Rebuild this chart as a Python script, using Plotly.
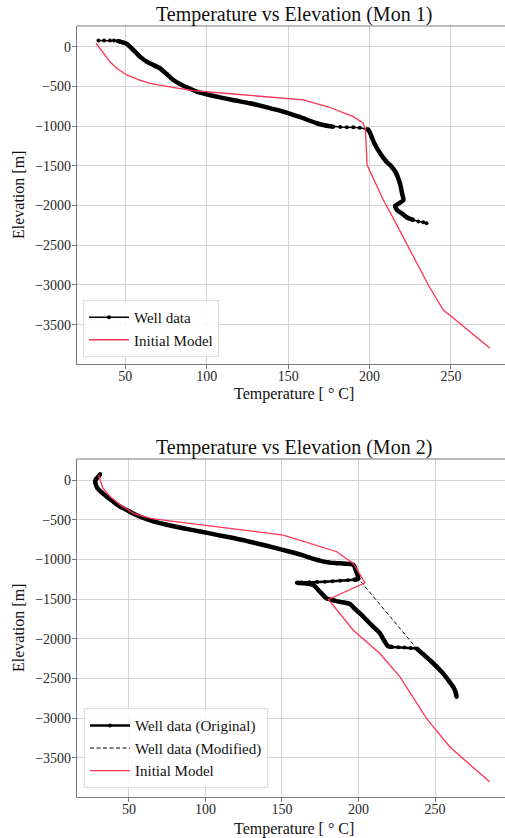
import plotly.graph_objects as go

# ---------------- Mon 1 ----------------
mon1_well_temp = [33.5, 37.0, 40.6, 43.0, 45.1,
                  47.0, 49.0, 50.9, 54.9, 59.0, 63.1, 67.2, 71.3, 75.4, 79.5, 83.6, 87.7, 93.9,
                  100.0, 106.0, 116.0, 126.6, 137.0, 147.0, 157.0, 167.6, 173.0, 177.8,
                  182.0, 186.0, 190.0, 194.0, 198.3,
                  199.3, 201.0, 203.0, 206.5, 210.0, 213.6, 216.0, 218.7, 220.0, 220.8, 218.0, 215.7,
                  217.0, 219.8, 223.0, 226.9,
                  230.0, 233.0, 235.0]
mon1_well_elev = [78, 78, 77, 76, 72,
                  62, 50, 34, -42, -126, -189, -230, -272, -344, -419, -470, -511, -566,
                  -600, -629, -672, -713, -764, -818, -885, -964, -992, -1007,
                  -1012, -1014, -1016, -1022, -1040,
                  -1049, -1120, -1220, -1342, -1440, -1511, -1580, -1720, -1850, -1930, -1975, -2006,
                  -2060, -2098, -2150, -2182,
                  -2200, -2212, -2222]
# index ranges of densely logged intervals
mon1_dense = [(4, 27), (32, 48)]

mon1_model_temp = [32.0, 35.0, 38.6, 41.0, 44.7, 50.9, 58.0, 65.2, 80.0, 91.8, 116.3, 136.9, 159.3,
                   175.0, 190.0, 196.0, 197.5, 198.5, 208.5, 215.7, 222.8, 236.1, 245.3, 250.5, 274.0]
mon1_model_elev = [43, -40, -126, -200, -272, -356, -415, -461, -515, -554, -596, -629, -671,
                   -760, -881, -960, -1040, -1490, -1930, -2203, -2475, -3000, -3315, -3399, -3797]

# ---------------- Mon 2 ----------------
mon2_well_temp = [31.3, 30.0, 28.5, 28.0, 28.5, 29.5, 32.0, 35.6, 39.5, 44.3, 50.5, 57.4, 65.5, 74.8,
                  85.5, 96.5, 107.5, 118.3, 129.0, 140.0, 151.0, 161.8, 168.0, 174.0, 180.0, 186.0,
                  191.0, 196.6, 198.5, 199.9,
                  197.0, 193.0, 188.0, 183.0, 178.0, 173.0, 168.0, 163.0, 159.7,
                  165.0, 170.5, 175.0, 179.2, 184.0, 187.9, 194.4, 197.5, 201.0, 205.3, 209.7, 214.0,
                  217.0, 219.4,
                  222.0, 226.0, 230.0, 234.0, 238.0,
                  242.0, 246.7, 251.0, 255.3, 259.0, 261.9, 263.5, 264.1]
mon2_well_elev = [80, 45, 15, -20, -60, -100, -150, -207, -265, -333, -395, -460, -515, -560,
                  -605, -645, -688, -728, -775, -825, -880, -935, -975, -1010, -1035, -1045,
                  -1052, -1065, -1150, -1240,
                  -1255, -1262, -1268, -1274, -1279, -1283, -1287, -1290, -1293,
                  -1300, -1322, -1410, -1490, -1515, -1533, -1560, -1620, -1680, -1764, -1849, -1932,
                  -2030, -2095,
                  -2102, -2106, -2110, -2115, -2122,
                  -2190, -2270, -2350, -2438, -2530, -2607, -2680, -2733]
mon2_dense = [(0, 30), (38, 53), (57, 66)]

# modified log: the excursion between -1240 m and -2122 m is removed
mon2_mod_temp = mon2_well_temp[:30] + mon2_well_temp[57:]
mon2_mod_elev = mon2_well_elev[:30] + mon2_well_elev[57:]

mon2_model_temp = [30.2, 31.3, 33.0, 37.8, 45.0, 53.0, 64.0, 85.6, 118.0, 150.9, 185.8, 196.6,
                   204.2, 180.3, 196.6, 214.0, 227.1, 244.5, 259.7, 285.8]
mon2_model_elev = [67, 4, -100, -207, -320, -417, -480, -535, -612, -691, -901, -1048,
                   -1293, -1503, -1891, -2185, -2480, -3006, -3365, -3807]

FONT = "Liberation Serif, Times New Roman, serif"
SPINE = "#7a7a7a"
GRID = "#d3d3d3"
RED = "#ff3355"
W, H = 505, 838


def segments(xs, ys, ranges):
    sx, sy = [], []
    for a, b in ranges:
        sx += xs[a:b + 1] + [None]
        sy += ys[a:b + 1] + [None]
    return sx, sy


fig = go.Figure()

# Mon 1 traces
dx, dy = segments(mon1_well_temp, mon1_well_elev, mon1_dense)
fig.add_trace(go.Scatter(x=dx, y=dy, mode="lines", line=dict(color="black", width=4.5, shape="spline", smoothing=0.6),
                         showlegend=False, hoverinfo="skip", xaxis="x", yaxis="y"))
fig.add_trace(go.Scatter(x=mon1_well_temp, y=mon1_well_elev, mode="lines+markers", name="Well data",
                         line=dict(color="black", width=1.5), marker=dict(color="black", size=4),
                         legend="legend", xaxis="x", yaxis="y"))
fig.add_trace(go.Scatter(x=mon1_model_temp, y=mon1_model_elev, mode="lines", name="Initial Model",
                         line=dict(color=RED, width=1.3), legend="legend", xaxis="x", yaxis="y"))

# Mon 2 traces
dx, dy = segments(mon2_well_temp, mon2_well_elev, mon2_dense)
fig.add_trace(go.Scatter(x=dx, y=dy, mode="lines", line=dict(color="black", width=4.5, shape="spline", smoothing=0.6),
                         showlegend=False, hoverinfo="skip", xaxis="x2", yaxis="y2"))
fig.add_trace(go.Scatter(x=mon2_well_temp, y=mon2_well_elev, mode="lines+markers",
                         name="Well data (Original)",
                         line=dict(color="black", width=2.5), marker=dict(color="black", size=4),
                         legend="legend2", xaxis="x2", yaxis="y2"))
fig.add_trace(go.Scatter(x=mon2_mod_temp, y=mon2_mod_elev, mode="lines", name="Well data (Modified)",
                         line=dict(color="black", width=1, dash="4px,2.5px"),
                         legend="legend2", xaxis="x2", yaxis="y2"))
fig.add_trace(go.Scatter(x=mon2_model_temp, y=mon2_model_elev, mode="lines", name="Initial Model",
                         line=dict(color=RED, width=1.3), legend="legend2", xaxis="x2", yaxis="y2"))

left = 77 / W
top_dom = [1 - 364 / H, 1 - 26 / H]
bot_dom = [1 - 796.7 / H, 1 - 459 / H]

axis_common = dict(showgrid=True, gridcolor=GRID, gridwidth=1.2, zeroline=False,
                   showline=True, linecolor=SPINE, linewidth=1.2, mirror=False,
                   ticks="outside", ticklen=4, tickcolor=SPINE, tickwidth=1,
                   tickfont=dict(family=FONT, size=14, color="#262626"))
xfix = dict(ticklabelstandoff=-5)
yfix = dict(ticklabelstandoff=-2)

legend_common = dict(xanchor="left", yanchor="bottom", itemwidth=40,
                     bgcolor="rgba(255,255,255,0.85)", bordercolor="#dddddd", borderwidth=1,
                     font=dict(family=FONT, size=15, color="#111"), tracegroupgap=0)

fig.update_layout(
    width=W, height=H, margin=dict(l=0, r=0, t=0, b=0),
    paper_bgcolor="white", plot_bgcolor="white",
    font=dict(family=FONT, color="#111"),
    xaxis=dict(domain=[left, 1], anchor="y", range=[20.33, 283.2], dtick=50, **axis_common, **xfix),
    yaxis=dict(domain=top_dom, anchor="x", range=[-3995, 260], dtick=500, **axis_common, **yfix),
    xaxis2=dict(domain=[left, 1], anchor="y2", range=[16.1, 295.7], dtick=50, **axis_common, **xfix),
    yaxis2=dict(domain=bot_dom, anchor="x2", range=[-3992, 269], dtick=500, **axis_common, **yfix),
    legend=dict(x=83 / W, y=1 - 357 / H, **legend_common),
    legend2=dict(x=84 / W, y=1 - 788.3 / H, **legend_common),
    showlegend=True,
)

# top spines
for yref in ("y domain", "y2 domain"):
    fig.add_shape(type="line", xref="paper", yref=yref, x0=left, x1=1, y0=1, y1=1,
                  line=dict(color=SPINE, width=1.2))

ann = []
for title, yc in (("Temperature vs Elevation (Mon 1)", 15), ("Temperature vs Elevation (Mon 2)", 447.7)):
    ann.append(dict(text=title, x=294 / W, y=1 - yc / H, xref="paper", yref="paper",
                    xanchor="center", yanchor="middle", showarrow=False,
                    font=dict(family=FONT, size=20, color="#111")))
for yc in (394, 829):
    ann.append(dict(text="Temperature [ ° C]", x=294 / W, y=1 - yc / H, xref="paper", yref="paper",
                    xanchor="center", yanchor="middle", showarrow=False,
                    font=dict(family=FONT, size=16, color="#111")))
for yc in (195, 628):
    ann.append(dict(text="Elevation [m]", x=18 / W, y=1 - yc / H, xref="paper", yref="paper",
                    xanchor="center", yanchor="middle", showarrow=False, textangle=-90,
                    font=dict(family=FONT, size=16, color="#111")))
fig.update_layout(annotations=ann)

fig.write_html("out.html")
